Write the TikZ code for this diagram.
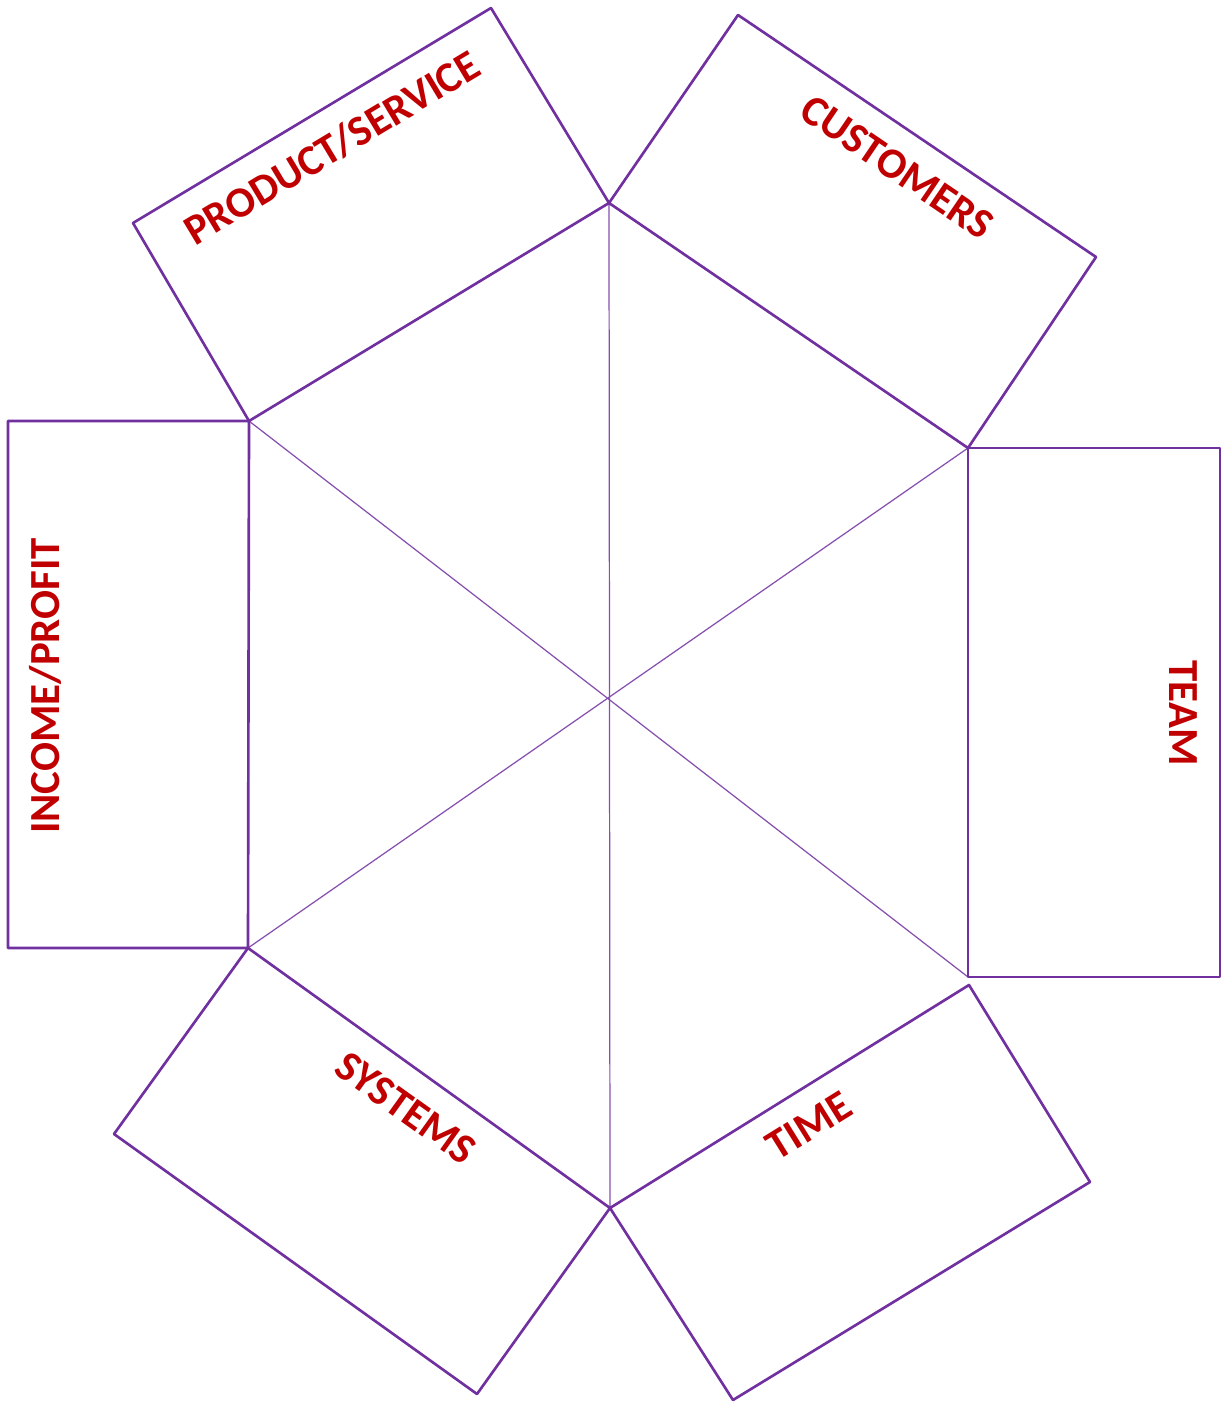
\documentclass[tikz,border=0pt]{standalone}
\usepackage{fontspec}
\setmainfont{Carlito}
\usepackage{xcolor}
\usepackage{tikz}
\definecolor{flappurple}{HTML}{7030A0}
\definecolor{flapred}{HTML}{C00000}

\begin{document}
\begin{tikzpicture}[x=0.01cm,y=-0.01cm,
  edge/.style={draw=flappurple,line width=0.75pt,line join=round},
  spoke/.style={draw=flappurple!85,line width=0.35pt},
  flaplabel/.style={text=flapred,font=\bfseries\fontsize{12.2}{15}\selectfont,inner sep=0pt}]
\useasboundingbox (0,0) rectangle (1229,1403);
% hexagon corners
\coordinate (T)  at (609,203);
\coordinate (UR) at (968,448);
\coordinate (LR) at (968,977);
\coordinate (LRb) at (969,985);
\coordinate (B)  at (610,1208);
\coordinate (LL) at (248,948);
\coordinate (UL) at (249,421);
% outer flap corners
\coordinate (prodA) at (133,223);  \coordinate (prodB) at (491,8);
\coordinate (custA) at (738,15);   \coordinate (custB) at (1096,257);
\coordinate (teamA) at (1220,448); \coordinate (teamB) at (1220,977);
\coordinate (timeA) at (1090,1182);\coordinate (timeB) at (733,1400);
\coordinate (sysA)  at (477,1394); \coordinate (sysB)  at (114,1134);
\coordinate (incA)  at (8,948);    \coordinate (incB)  at (8,421);
% spokes
\draw[spoke] (T) -- (B);
\draw[spoke] (UL) -- (LR);
\draw[spoke] (UR) -- (LL);
% flaps
\draw[edge] (UL) -- (T) -- (prodB) -- (prodA) -- cycle;
\draw[edge] (T) -- (UR) -- (custB) -- (custA) -- cycle;
\draw[edge] (UR) -- (teamA) -- (teamB) -- (LR) -- cycle;
\draw[edge] (LRb) -- (timeA) -- (timeB) -- (B) -- cycle;
\draw[edge] (B) -- (LL) -- (sysB) -- (sysA) -- cycle;
\draw[edge] (LL) -- (incA) -- (incB) -- (UL) -- cycle;
% labels
\node[flaplabel,rotate=31]    (prodlbl) at (332,148)  {PRODUCT/SERVICE};
\node[flaplabel,rotate=-34.2] (custlbl) at (897,167)  {CUSTOMERS};
\node[flaplabel,rotate=-90]   (teamlbl) at (1183,713) {TEAM};
\node[flaplabel,rotate=31.8]  (timelbl) at (809,1126) {TIME};
\node[flaplabel,rotate=-35.6] (syslbl)  at (406,1108) {SYSTEMS};
\node[flaplabel,rotate=90]    (inclbl)  at (45,686)   {INCOME/PROFIT};
\end{tikzpicture}
\end{document}
